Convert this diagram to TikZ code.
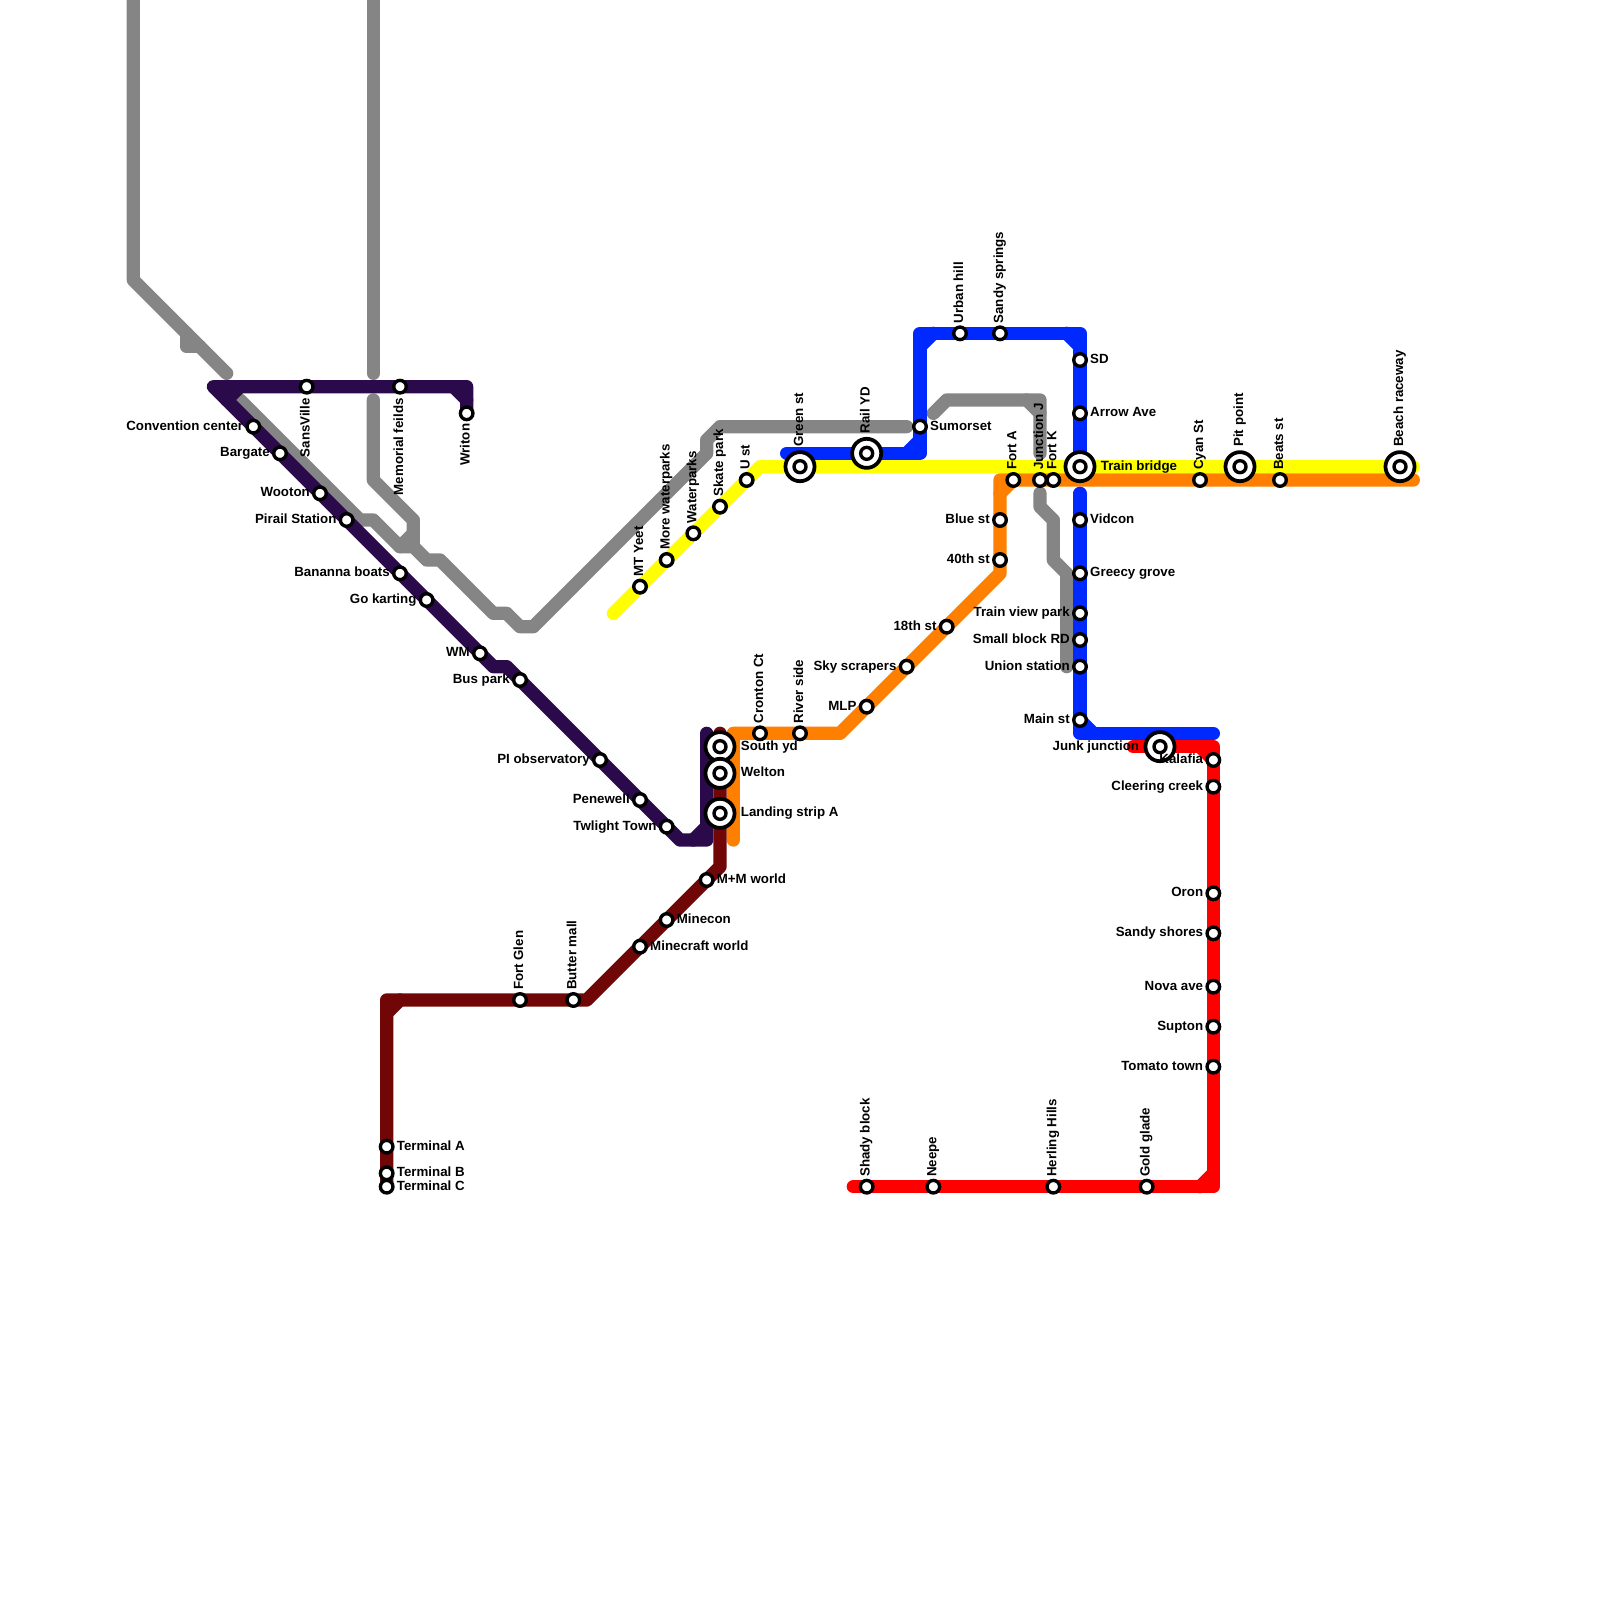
\documentclass[tikz,border=0pt]{standalone}
\usepackage{fontspec}
\setmainfont{Liberation Sans}
\usepackage{xcolor}
\usetikzlibrary{backgrounds}
\definecolor{linegrey}{HTML}{858585}
\definecolor{linepurple}{HTML}{2A0A4A}
\definecolor{linemaroon}{HTML}{700606}
\definecolor{linered}{HTML}{FF0000}
\definecolor{lineblue}{HTML}{0029FF}
\definecolor{lineorange}{HTML}{FF7F00}
\definecolor{lineyellow}{HTML}{FFFF00}
\tikzstyle{stop} = [circle, draw=black, fill=white, line width=3.6pt, minimum size=13.4pt, inner sep=0pt, outer sep=0pt]
\tikzstyle{hub} = [circle, draw=black, fill=white, line width=4pt, minimum size=31pt, inner sep=0pt, outer sep=0pt, path picture={\draw[black, line width=3.6pt] (path picture bounding box.center) circle (6.4pt);}]
\tikzstyle{lbl} = [font=\bfseries\fontsize{14.2}{16}\selectfont, inner sep=0pt, text height=10pt, text depth=0pt]
\tikzstyle{lblh} = [lbl, yshift=1.4pt]
\tikzstyle{lblup} = [lbl, xshift=-1.8pt, rotate=90, anchor=west]
\tikzstyle{lbldown} = [lbl, xshift=-1.8pt, rotate=90, anchor=east]
\tikzstyle{rail} = [line width=14.2pt, line cap=round, line join=round]
\tikzset{
  stopW/.style={stop, label={[lblh, xshift=-4pt]180:#1}},
  stopE/.style={stop, label={[lblh, xshift=4pt]0:#1}},
  stopN/.style={stop, label={[yshift=3.8pt, lblup]90:#1}},
  stopS/.style={stop, label={[yshift=-5.5pt, lbldown]-90:#1}},
  stopSS/.style={stop, label={[yshift=-4.2pt, lbldown]-90:#1}},
  hubW/.style={hub, label={[lblh, xshift=-6.6pt]180:#1}},
  hubE/.style={hub, label={[lblh, xshift=6.6pt]0:#1}},
  hubN/.style={hub, label={[yshift=5.7pt, lblup]90:#1}},
}

\begin{document}
\begin{tikzpicture}[x=0.5cm, y=-0.5cm]
\clip (0,0) rectangle (120,120);

% purple line stops
\node (sansville) [stopS={SansVille}] at (23,29) {};
\node (memorial) [stopS={Memorial feilds}] at (30,29) {};
\node (writon) [stopSS={Writon}] at (35,31) {};
\node (convention) [stopW={Convention center}] at (19,32) {};
\node (bargate) [stopW={Bargate}] at (21,34) {};
\node (wooton) [stopW={Wooton}] at (24,37) {};
\node (pirail) [stopW={Pirail Station}] at (26,39) {};
\node (bananna) [stopW={Bananna boats}] at (30,43) {};
\node (gokarting) [stopW={Go karting}] at (32,45) {};
\node (wm) [stopW={WM}] at (36,49) {};
\node (buspark) [stopW={Bus park}] at (39,51) {};
\node (piobs) [stopW={PI observatory}] at (45,57) {};
\node (penewell) [stopW={Penewell}] at (48,60) {};
\node (twlight) [stopW={Twlight Town}] at (50,62) {};

% maroon line stops
\node (southyd) [hubE={South yd}] at (54,56) {};
\node (welton) [hubE={Welton}] at (54,58) {};
\node (landing) [hubE={Landing strip A}] at (54,61) {};
\node (mmworld) [stopE={M+M world}] at (53,66) {};
\node (minecon) [stopE={Minecon}] at (50,69) {};
\node (minecraft) [stopE={Minecraft world}] at (48,71) {};
\node (butter) [stopN={Butter mall}] at (43,75) {};
\node (fortglen) [stopN={Fort Glen}] at (39,75) {};
\node (terma) [stopE={Terminal A}] at (29,86) {};
\node (termb) [stopE={Terminal B}] at (29,88) {};
\node (termc) [stopE={Terminal C}] at (29,89) {};

% orange line stops
\node (cronton) [stopN={Cronton Ct}] at (57,55) {};
\node (riverside) [stopN={River side}] at (60,55) {};
\node (mlp) [stopW={MLP}] at (65,53) {};
\node (skyscrapers) [stopW={Sky scrapers}] at (68,50) {};
\node (eighteenth) [stopW={18th st}] at (71,47) {};
\node (fortieth) [stopW={40th st}] at (75,42) {};
\node (bluest) [stopW={Blue st}] at (75,39) {};
\node (forta) [stopN={Fort A}] at (76,36) {};
\node (junctionj) [stopN={Junction J}] at (78,36) {};
\node (fortk) [stopN={Fort K}] at (79,36) {};
\node (cyan) [stopN={Cyan St}] at (90,36) {};
\node (beats) [stopN={Beats st}] at (96,36) {};

% yellow line stops
\node (mtyeet) [stopN={MT Yeet}] at (48,44) {};
\node (morewater) [stopN={More waterparks}] at (50,42) {};
\node (waterparks) [stopN={Waterparks}] at (52,40) {};
\node (skate) [stopN={Skate park}] at (54,38) {};
\node (ust) [stopN={U st}] at (56,36) {};
\node (green) [hubN={Green st}] at (60,35) {};
\node (trainbridge) [hubE={Train bridge}] at (81,35) {};
\node (pitpoint) [hubN={Pit point}] at (93,35) {};
\node (beach) [hubN={Beach raceway}] at (105,35) {};

% blue line stops
\node (railyd) [hubN={Rail YD}] at (65,34) {};
\node (sumorset) [stopE={Sumorset}] at (69,32) {};
\node (urban) [stopN={Urban hill}] at (72,25) {};
\node (sandysprings) [stopN={Sandy springs}] at (75,25) {};
\node (sd) [stopE={SD}] at (81,27) {};
\node (arrow) [stopE={Arrow Ave}] at (81,31) {};
\node (vidcon) [stopE={Vidcon}] at (81,39) {};
\node (greecy) [stopE={Greecy grove}] at (81,43) {};
\node (trainview) [stopW={Train view park}] at (81,46) {};
\node (smallblock) [stopW={Small block RD}] at (81,48) {};
\node (union) [stopW={Union station}] at (81,50) {};
\node (mainst) [stopW={Main st}] at (81,54) {};

% red line stops
\node (junk) [hubW={Junk junction}] at (87,56) {};
\node (kalafia) [stopW={Kalafia}] at (91,57) {};
\node (cleering) [stopW={Cleering creek}] at (91,59) {};
\node (oron) [stopW={Oron}] at (91,67) {};
\node (sandyshores) [stopW={Sandy shores}] at (91,70) {};
\node (nova) [stopW={Nova ave}] at (91,74) {};
\node (supton) [stopW={Supton}] at (91,77) {};
\node (tomato) [stopW={Tomato town}] at (91,80) {};
\node (gold) [stopN={Gold glade}] at (86,89) {};
\node (herling) [stopN={Herling Hills}] at (79,89) {};
\node (neepe) [stopN={Neepe}] at (70,89) {};
\node (shady) [stopN={Shady block}] at (65,89) {};

% bends and line ends
\path (10,0) coordinate (ga1) (10,21) coordinate (ga2) (17,28) coordinate (ga3)
  (14,25) coordinate (ga4) (14,26) coordinate (ga5) (15,26) coordinate (ga6);
\path (28,0) coordinate (gb1) (28,28) coordinate (gb2);
\path (28,30) coordinate (gc1) (28,36) coordinate (gc2) (31,39) coordinate (gc3) (31,40) coordinate (gc4);
\path (18,30) coordinate (gd1) (27,39) coordinate (gd2) (28,39) coordinate (gd3) (30,41) coordinate (gd4)
  (31,41) coordinate (gd5) (32,42) coordinate (gd6) (33,42) coordinate (gd7) (37,46) coordinate (gd8)
  (38,46) coordinate (gd9) (39,47) coordinate (gd10) (40,47) coordinate (gd11) (53,34) coordinate (gd12)
  (53,33) coordinate (gd13) (54,32) coordinate (gd14) (68,32) coordinate (gd15);
\path (70,31) coordinate (ge1) (71,30) coordinate (ge2) (78,30) coordinate (ge3) (78,34) coordinate (ge4)
  (77,30) coordinate (ge5) (78,31) coordinate (ge6);
\path (78,37) coordinate (gf1) (78,38) coordinate (gf2) (79,39) coordinate (gf3) (79,42) coordinate (gf4)
  (80,43) coordinate (gf5) (80,50) coordinate (gf6);
\path (16,29) coordinate (pu1) (18,29) coordinate (pu2) (17,30) coordinate (pu3) (34,29) coordinate (pu4)
  (35,29) coordinate (pu5) (35,30) coordinate (pu6) (37,50) coordinate (pu7) (38,50) coordinate (pu8)
  (51,63) coordinate (pu9) (53,63) coordinate (pu10) (52,63) coordinate (pu11) (53,62) coordinate (pu12)
  (53,55) coordinate (pu13);
\path (54,55) coordinate (ma1) (54,65) coordinate (ma2) (44,75) coordinate (ma3) (29,75) coordinate (ma4)
  (30,75) coordinate (ma5) (29,76) coordinate (ma6);
\path (55,63) coordinate (or1) (55,55) coordinate (or2) (63,55) coordinate (or3) (75,43) coordinate (or4)
  (75,36) coordinate (or5) (75,37) coordinate (or6) (106,36) coordinate (or7);
\path (46,46) coordinate (ye1) (57,35) coordinate (ye2) (106,35) coordinate (ye3);
\path (59,34) coordinate (bl1) (69,34) coordinate (bl2) (68,34) coordinate (bl3) (69,33) coordinate (bl4)
  (69,25) coordinate (bl5) (69,26) coordinate (bl6) (70,25) coordinate (bl7) (81,25) coordinate (bl8)
  (80,25) coordinate (bl9) (81,26) coordinate (bl10) (81,37) coordinate (bl11) (81,55) coordinate (bl12)
  (82,55) coordinate (bl13) (91,55) coordinate (bl14);
\path (85,56) coordinate (re1) (91,56) coordinate (re2) (90,56) coordinate (re3) (91,89) coordinate (re4)
  (90,89) coordinate (re5) (91,88) coordinate (re6) (64,89) coordinate (re7);

\begin{pgfonlayer}{background}
\draw [rail, linegrey] (ga1) -- (ga2) -- (ga3);
\draw [rail, linegrey] (ga4) -- (ga5) -- (ga6);
\draw [rail, linegrey] (gb1) -- (gb2);
\draw [rail, linegrey] (gc1) -- (gc2) -- (gc3) -- (gd5);
\draw [rail, linegrey] (gc4) -- (gd4);
\draw [rail, linegrey] (gd1) -- (gd2) -- (gd3) -- (gd4) -- (gd5) -- (gd6) -- (gd7) -- (gd8) -- (gd9) -- (gd10) -- (gd11) -- (gd12) -- (gd13) -- (gd14) -- (gd15);
\draw [rail, linegrey] (ge1) -- (ge2) -- (ge3) -- (ge4);
\draw [rail, linegrey] (ge5) -- (ge6);
\draw [rail, linegrey] (gf1) -- (gf2) -- (gf3) -- (gf4) -- (gf5) -- (gf6);

\draw [rail, lineyellow] (ye1) -- (mtyeet.center) -- (morewater.center) -- (waterparks.center) -- (skate.center) -- (ust.center) -- (ye2) -- (green.center) -- (trainbridge.center) -- (pitpoint.center) -- (beach.center) -- (ye3);
\draw [rail, lineorange] (or1) -- (or2) -- (cronton.center) -- (riverside.center) -- (or3) -- (mlp.center) -- (skyscrapers.center) -- (eighteenth.center) -- (or4) -- (fortieth.center) -- (bluest.center) -- (or5) -- (forta.center) -- (junctionj.center) -- (fortk.center) -- (cyan.center) -- (beats.center) -- (or7);
\draw [rail, lineorange] (or6) -- (forta.center);

\draw [rail, lineblue] (bl1) -- (railyd.center) -- (bl2) -- (sumorset.center) -- (bl5) -- (urban.center) -- (sandysprings.center) -- (bl8) -- (sd.center) -- (arrow.center) -- (trainbridge.center);
\draw [rail, lineblue] (bl3) -- (bl4);
\draw [rail, lineblue] (bl6) -- (bl7);
\draw [rail, lineblue] (bl9) -- (bl10);
\draw [rail, lineblue] (bl11) -- (vidcon.center) -- (greecy.center) -- (trainview.center) -- (smallblock.center) -- (union.center) -- (mainst.center) -- (bl12) -- (bl14);
\draw [rail, lineblue] (mainst.center) -- (bl13);

\draw [rail, linered] (re1) -- (junk.center) -- (re2) -- (kalafia.center) -- (cleering.center) -- (oron.center) -- (sandyshores.center) -- (nova.center) -- (supton.center) -- (tomato.center) -- (re4) -- (gold.center) -- (herling.center) -- (neepe.center) -- (shady.center) -- (re7);
\draw [rail, linered] (re3) -- (kalafia.center);
\draw [rail, linered] (re5) -- (re6);

\draw [rail, linepurple] (writon.center) -- (pu5) -- (memorial.center) -- (sansville.center) -- (pu1) -- (convention.center) -- (bargate.center) -- (wooton.center) -- (pirail.center) -- (bananna.center) -- (gokarting.center) -- (wm.center) -- (pu7) -- (pu8) -- (buspark.center) -- (piobs.center) -- (penewell.center) -- (twlight.center) -- (pu9) -- (pu10) -- (pu13);
\draw [rail, linepurple] (pu2) -- (pu3);
\draw [rail, linepurple] (pu4) -- (pu6);
\draw [rail, linepurple] (pu11) -- (pu12);

\draw [rail, linemaroon] (ma1) -- (southyd.center) -- (welton.center) -- (landing.center) -- (ma2) -- (mmworld.center) -- (minecon.center) -- (minecraft.center) -- (ma3) -- (butter.center) -- (fortglen.center) -- (ma4) -- (terma.center) -- (termb.center) -- (termc.center);
\draw [rail, linemaroon] (ma5) -- (ma6);
\end{pgfonlayer}
\end{tikzpicture}
\end{document}
